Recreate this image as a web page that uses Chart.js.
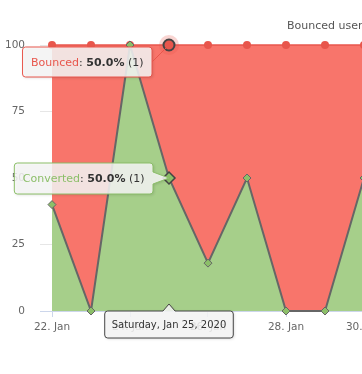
<!DOCTYPE html>
<html>
<head>
<meta charset="utf-8">
<script src="https://cdn.jsdelivr.net/npm/chart.js@4"></script>
<style>
html,body{margin:0;padding:0;background:#fff;overflow:hidden;width:362px;height:374px;}
#wrap{position:absolute;left:0;top:0;width:420px;height:374px;}
</style>
</head>
<body>
<div id="wrap"><canvas id="c" width="420" height="374"></canvas></div>
<script>
const dayLabels = ['22. Jan','23. Jan','24. Jan','25. Jan','26. Jan','27. Jan','28. Jan','29. Jan','30. Jan'];
const fullDates = ['Wednesday, Jan 22, 2020','Thursday, Jan 23, 2020','Friday, Jan 24, 2020','Saturday, Jan 25, 2020','Sunday, Jan 26, 2020','Monday, Jan 27, 2020','Tuesday, Jan 28, 2020','Wednesday, Jan 29, 2020','Thursday, Jan 30, 2020'];
const convertedPct = [40, 0, 100, 50, 18, 50, 0, 0, 50];
const bouncedPct = [60, 100, 0, 50, 82, 50, 100, 100, 50];
const yTicks = [0, 25, 50, 75, 100];
const seriesNames = ['Converted', 'Bounced'];
const legendText = 'Bounced users';
const hoverIndex = 3;
const hoverCounts = [1, 1];

const FONT = '"DejaVu Sans", sans-serif';
const RED = '#e8564c';
const GREEN = '#8cbf69';

function pts(arr){ return arr.map((v,i)=>({x:i, y:v})); }

const overlay = {
  id: 'overlay',
  beforeDatasetDraw(chart, args){
    if (args.index !== 1) return;
    const p = chart.getDatasetMeta(1).data[hoverIndex];
    const ctx = chart.ctx;
    ctx.save();
    ctx.beginPath();
    ctx.arc(p.x, p.y, 10, 0, Math.PI*2);
    ctx.fillStyle = 'rgba(232,86,76,0.25)';
    ctx.fill();
    ctx.restore();
  },
  afterDraw(chart){
    const ctx = chart.ctx;
    const ca = chart.chartArea;
    ctx.save();
    // legend text
    ctx.font = '11px ' + FONT;
    ctx.fillStyle = '#555';
    ctx.textBaseline = 'middle';
    ctx.textAlign = 'left';
    ctx.fillText(legendText, ca.left + 247, 26);

    function drawBox(x,y,w,h,border,anchor){
      const r = 3;
      ctx.save();
      ctx.beginPath();
      ctx.moveTo(x+r,y);
      if (anchor && anchor.side==='top'){
        ctx.lineTo(anchor.x-6,y); ctx.lineTo(anchor.x,anchor.y); ctx.lineTo(anchor.x+6,y);
      }
      ctx.lineTo(x+w-r,y);
      ctx.arcTo(x+w,y,x+w,y+r,r);
      if (anchor && anchor.side==='right'){
        if (anchor.y > y+6 && anchor.y < y+h-6){
          ctx.lineTo(x+w,anchor.y-6); ctx.lineTo(anchor.x,anchor.y); ctx.lineTo(x+w,anchor.y+6);
        } else {
          ctx.lineTo(x+w,y+h/2); ctx.lineTo(anchor.x,anchor.y); ctx.lineTo(x+w,y+h/2);
        }
      }
      ctx.lineTo(x+w,y+h-r);
      ctx.arcTo(x+w,y+h,x+w-r,y+h,r);
      ctx.lineTo(x+r,y+h);
      ctx.arcTo(x,y+h,x,y+h-r,r);
      ctx.lineTo(x,y+r);
      ctx.arcTo(x,y,x+r,y,r);
      ctx.closePath();
      ctx.shadowColor = 'rgba(0,0,0,0.18)';
      ctx.shadowBlur = 3; ctx.shadowOffsetX = 1; ctx.shadowOffsetY = 1;
      ctx.fillStyle = 'rgba(248,248,248,0.85)';
      ctx.fill();
      ctx.shadowColor = 'transparent';
      ctx.strokeStyle = border; ctx.lineWidth = 1;
      ctx.stroke();
      ctx.restore();
    }
    function itemParts(i){
      const vals = i===0 ? convertedPct : bouncedPct;
      return [
        {t: seriesNames[i], c: i===0 ? GREEN : RED, b:false},
        {t: ': ', c:'#333', b:false},
        {t: vals[hoverIndex].toFixed(1)+'%', c:'#333', b:true},
        {t: ' ('+hoverCounts[i]+')', c:'#333', b:false}
      ];
    }
    function measure(parts, size){
      let w = 0;
      parts.forEach(p=>{ ctx.font = (p.b?'bold ':'') + size + 'px ' + FONT; w += ctx.measureText(p.t).width; });
      return w;
    }
    function drawParts(parts, x, y, size){
      parts.forEach(p=>{ ctx.font = (p.b?'bold ':'') + size + 'px ' + FONT; ctx.fillStyle = p.c; ctx.textAlign='left'; ctx.textBaseline='middle'; ctx.fillText(p.t, x, y); x += ctx.measureText(p.t).width; });
    }
    const sz = 11;
    // Bounced tooltip
    const pb = chart.getDatasetMeta(1).data[hoverIndex];
    const partsB = itemParts(1);
    const twB = measure(partsB, sz);
    const wB = twB + 17, hB = 30;
    const xB = pb.x - 17 - wB, yB = pb.y + 2;
    drawBox(xB, yB, wB, hB, RED, {side:'right', x:pb.x, y:pb.y});
    drawParts(partsB, xB + 8.5, yB + hB/2 + 1, sz);
    // Converted tooltip
    const pc = chart.getDatasetMeta(0).data[hoverIndex];
    const partsC = itemParts(0);
    const twC = measure(partsC, sz);
    const wC = twC + 17, hC = 31;
    const xC = pc.x - 16 - wC, yC = pc.y - 15;
    drawBox(xC, yC, wC, hC, GREEN, {side:'right', x:pc.x, y:pc.y});
    drawParts(partsC, xC + 8.5, yC + hC/2 + 1, sz);
    // Header tooltip
    const hx = chart.scales.x.getPixelForValue(hoverIndex);
    const hy = ca.bottom;
    ctx.font = '10px ' + FONT;
    const twH = ctx.measureText(fullDates[hoverIndex]).width;
    const wH = twH + 14, hH = 27;
    const xH = hx - wH/2, yH = hy;
    drawBox(xH, yH, wH, hH, '#444', {side:'top', x:hx, y:hy-7});
    ctx.font = '10px ' + FONT;
    ctx.fillStyle = '#333'; ctx.textAlign='center'; ctx.textBaseline='middle';
    ctx.fillText(fullDates[hoverIndex], hx, yH + hH/2 + 1);
    ctx.restore();
  }
};

new Chart(document.getElementById('c'), {
  type: 'line',
  data: {
    datasets: [
      {
        label: seriesNames[0],
        data: pts(convertedPct),
        fill: 'origin',
        clip: false,
        backgroundColor: '#a6cf8a',
        borderColor: '#666666',
        borderWidth: 2,
        tension: 0,
        pointStyle: 'rectRot',
        pointRadius: c => c.dataIndex===hoverIndex ? 6 : 4,
        pointBackgroundColor: GREEN,
        pointBorderColor: c => c.dataIndex===hoverIndex ? '#444' : '#666',
        pointBorderWidth: c => c.dataIndex===hoverIndex ? 1.5 : 1
      },
      {
        label: seriesNames[1],
        data: pts(bouncedPct),
        fill: '-1',
        clip: false,
        backgroundColor: '#f8756b',
        borderColor: RED,
        borderWidth: 1.5,
        tension: 0,
        pointStyle: 'circle',
        pointRadius: c => c.dataIndex===hoverIndex ? 5.5 : 4,
        pointBackgroundColor: RED,
        pointBorderColor: c => c.dataIndex===hoverIndex ? '#444' : RED,
        pointBorderWidth: c => c.dataIndex===hoverIndex ? 2 : 0
      }
    ]
  },
  options: {
    responsive: false,
    animation: false,
    events: [],
    layout: { autoPadding: false, padding: { top: 45, left: 0, right: 0, bottom: 0 } },
    plugins: { legend: { display: false }, tooltip: { enabled: false } },
    scales: {
      x: {
        type: 'linear',
        min: -12/39,
        max: 368/39,
        afterFit(s){ s.height = 63; s.paddingLeft = 0; s.paddingRight = 0; },
        grid: { drawOnChartArea: false, drawTicks: true, tickLength: 6, color: '#ccd6eb' },
        border: { display: true, color: '#ccd6eb' },
        ticks: {
          stepSize: 2,
          includeBounds: false,
          autoSkip: false,
          maxRotation: 0,
          padding: 4,
          color: '#666',
          font: { family: FONT, size: 10.5 },
          callback: v => dayLabels[v] !== undefined ? dayLabels[v] : ''
        }
      },
      y: {
        stacked: true,
        min: 0,
        max: 100,
        afterFit(s){ s.width = 40; s.paddingTop = 0; s.paddingBottom = 0; },
        afterBuildTicks(s){ s.ticks = yTicks.map(v=>({value:v})); },
        grid: { color: '#e6e6e6', drawTicks: false },
        border: { display: false },
        ticks: {
          padding: 15,
          color: '#666',
          font: { family: FONT, size: 10.5 }
        }
      }
    }
  },
  plugins: [overlay]
});
</script>
</body>
</html>
